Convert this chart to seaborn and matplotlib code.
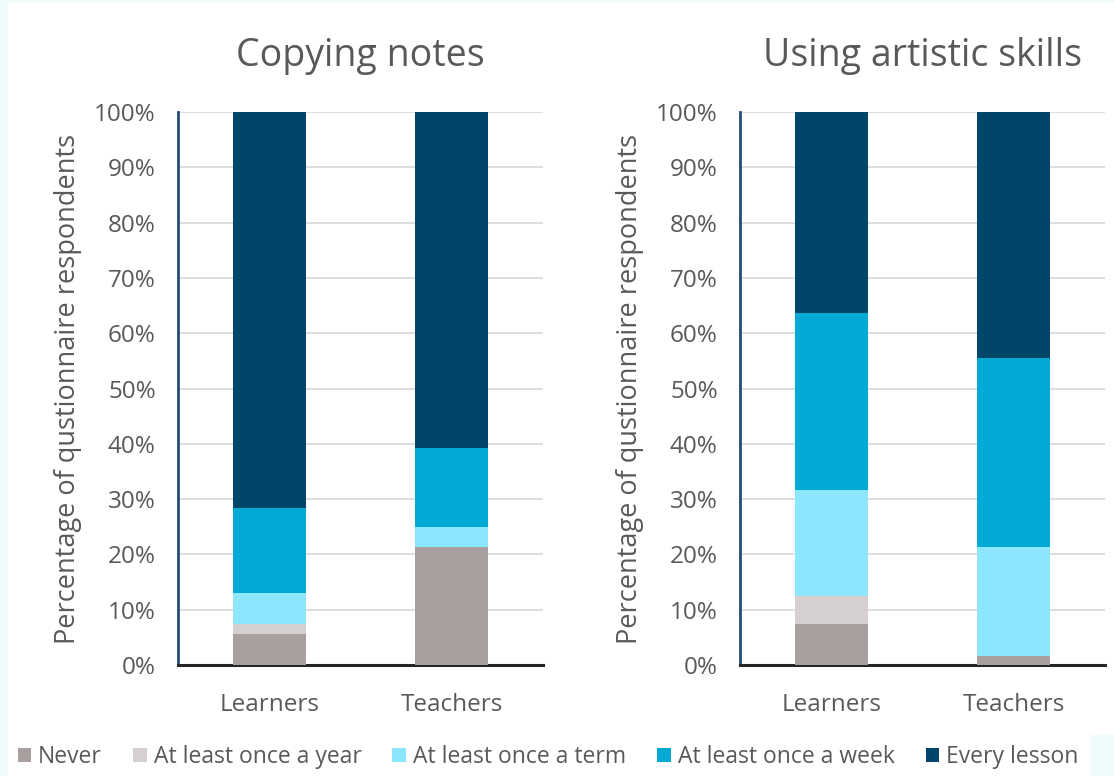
import numpy as np
import pandas as pd
import matplotlib
matplotlib.use("Agg")
import matplotlib.pyplot as plt
from matplotlib.patches import Rectangle, Patch
import seaborn as sns

# Survey answers: share of respondents (%) per frequency band
groups = ["Learners", "Teachers"]
frequencies = ["Never", "At least once a year", "At least once a term",
               "At least once a week", "Every lesson"]

copying_learners = [5.6, 1.8, 5.7, 15.3, 71.6]
copying_teachers = [21.4, 0.0, 3.6, 14.2, 60.8]
artistic_learners = [7.4, 5.1, 19.1, 32.1, 36.3]
artistic_teachers = [1.6, 0.0, 19.7, 34.2, 44.5]

panel_titles = ["Copying notes", "Using artistic skills"]
y_ticks = [0, 10, 20, 30, 40, 50, 60, 70, 80, 90, 100]
y_tick_labels = [f"{t}%" for t in y_ticks]

colors = ["#aa9f9f", "#d6cfcf", "#8ce7fe", "#00aad4", "#00466b"]
text_color = "#595959"

sns.set_theme(style="white")
plt.rcParams["font.family"] = ["Open Sans", "DejaVu Sans"]

fig = plt.figure(figsize=(11.14, 7.76), dpi=100)
fig.patch.set_facecolor("#eefcfb")
# white card
fig.patches.append(Rectangle((8 / 1114, 0), 1 - 8 / 1114, 1 - 3 / 776,
                             transform=fig.transFigure, facecolor="white",
                             edgecolor="none", zorder=-10))
fig.patches.append(Rectangle((1090 / 1114, 0), 24 / 1114, 41 / 776,
                             transform=fig.transFigure, facecolor="#eefcfb",
                             edgecolor="none", zorder=-9))

panels = [
    (panel_titles[0], copying_learners, copying_teachers, 178),
    (panel_titles[1], artistic_learners, artistic_teachers, 740),
]

for title, learners, teachers, left_px in panels:
    ax = fig.add_axes([left_px / 1114, 111 / 776, 365 / 1114, 553 / 776])
    df = pd.DataFrame({"group": groups})
    cum = np.cumsum(np.array([learners, teachers]), axis=1)
    # draw from the top band downward so each lower band overlays the one above
    for i in reversed(range(len(frequencies))):
        df["value"] = cum[:, i]
        sns.barplot(data=df, x="group", y="value", color=colors[i],
                    width=0.4, saturation=1, ax=ax, zorder=3,
                    edgecolor="none", linewidth=0)
    ax.set_xlim(-0.5, 1.5)
    ax.set_ylim(0, 100)
    ax.set_yticks(y_ticks)
    ax.set_yticklabels(y_tick_labels)
    ax.yaxis.grid(True, color="#d4d4d4", linewidth=1.1, zorder=0)
    ax.set_axisbelow(True)
    ax.tick_params(axis="both", length=0, labelsize=17.5, colors=text_color)
    ax.tick_params(axis="y", pad=16)
    ax.tick_params(axis="x", pad=20)
    ax.set_xlabel("")
    ax.set_ylabel("Percentage of qustionnaire respondents", fontsize=19.5,
                  color=text_color, labelpad=9)
    ax.set_title(title, fontsize=27, color=text_color, pad=33)
    for s in ["top", "right"]:
        ax.spines[s].set_visible(False)
    ax.spines["left"].set_color("#1f4e79")
    ax.spines["left"].set_linewidth(2)
    ax.spines["bottom"].set_color("#262626")
    ax.spines["bottom"].set_linewidth(2.2)

handles = [Patch(facecolor=c, edgecolor="none") for c in colors]
fig.legend(handles, frequencies, loc="center", bbox_to_anchor=(0.492, 19 / 776),
           ncol=5, frameon=False, handlelength=0.6, handleheight=0.6,
           handletextpad=0.3, columnspacing=1.35,
           prop={"family": ["Open Sans", "DejaVu Sans"], "size": 16.5},
           labelcolor=text_color)

fig.savefig("out.png", dpi=100, facecolor=fig.get_facecolor())
